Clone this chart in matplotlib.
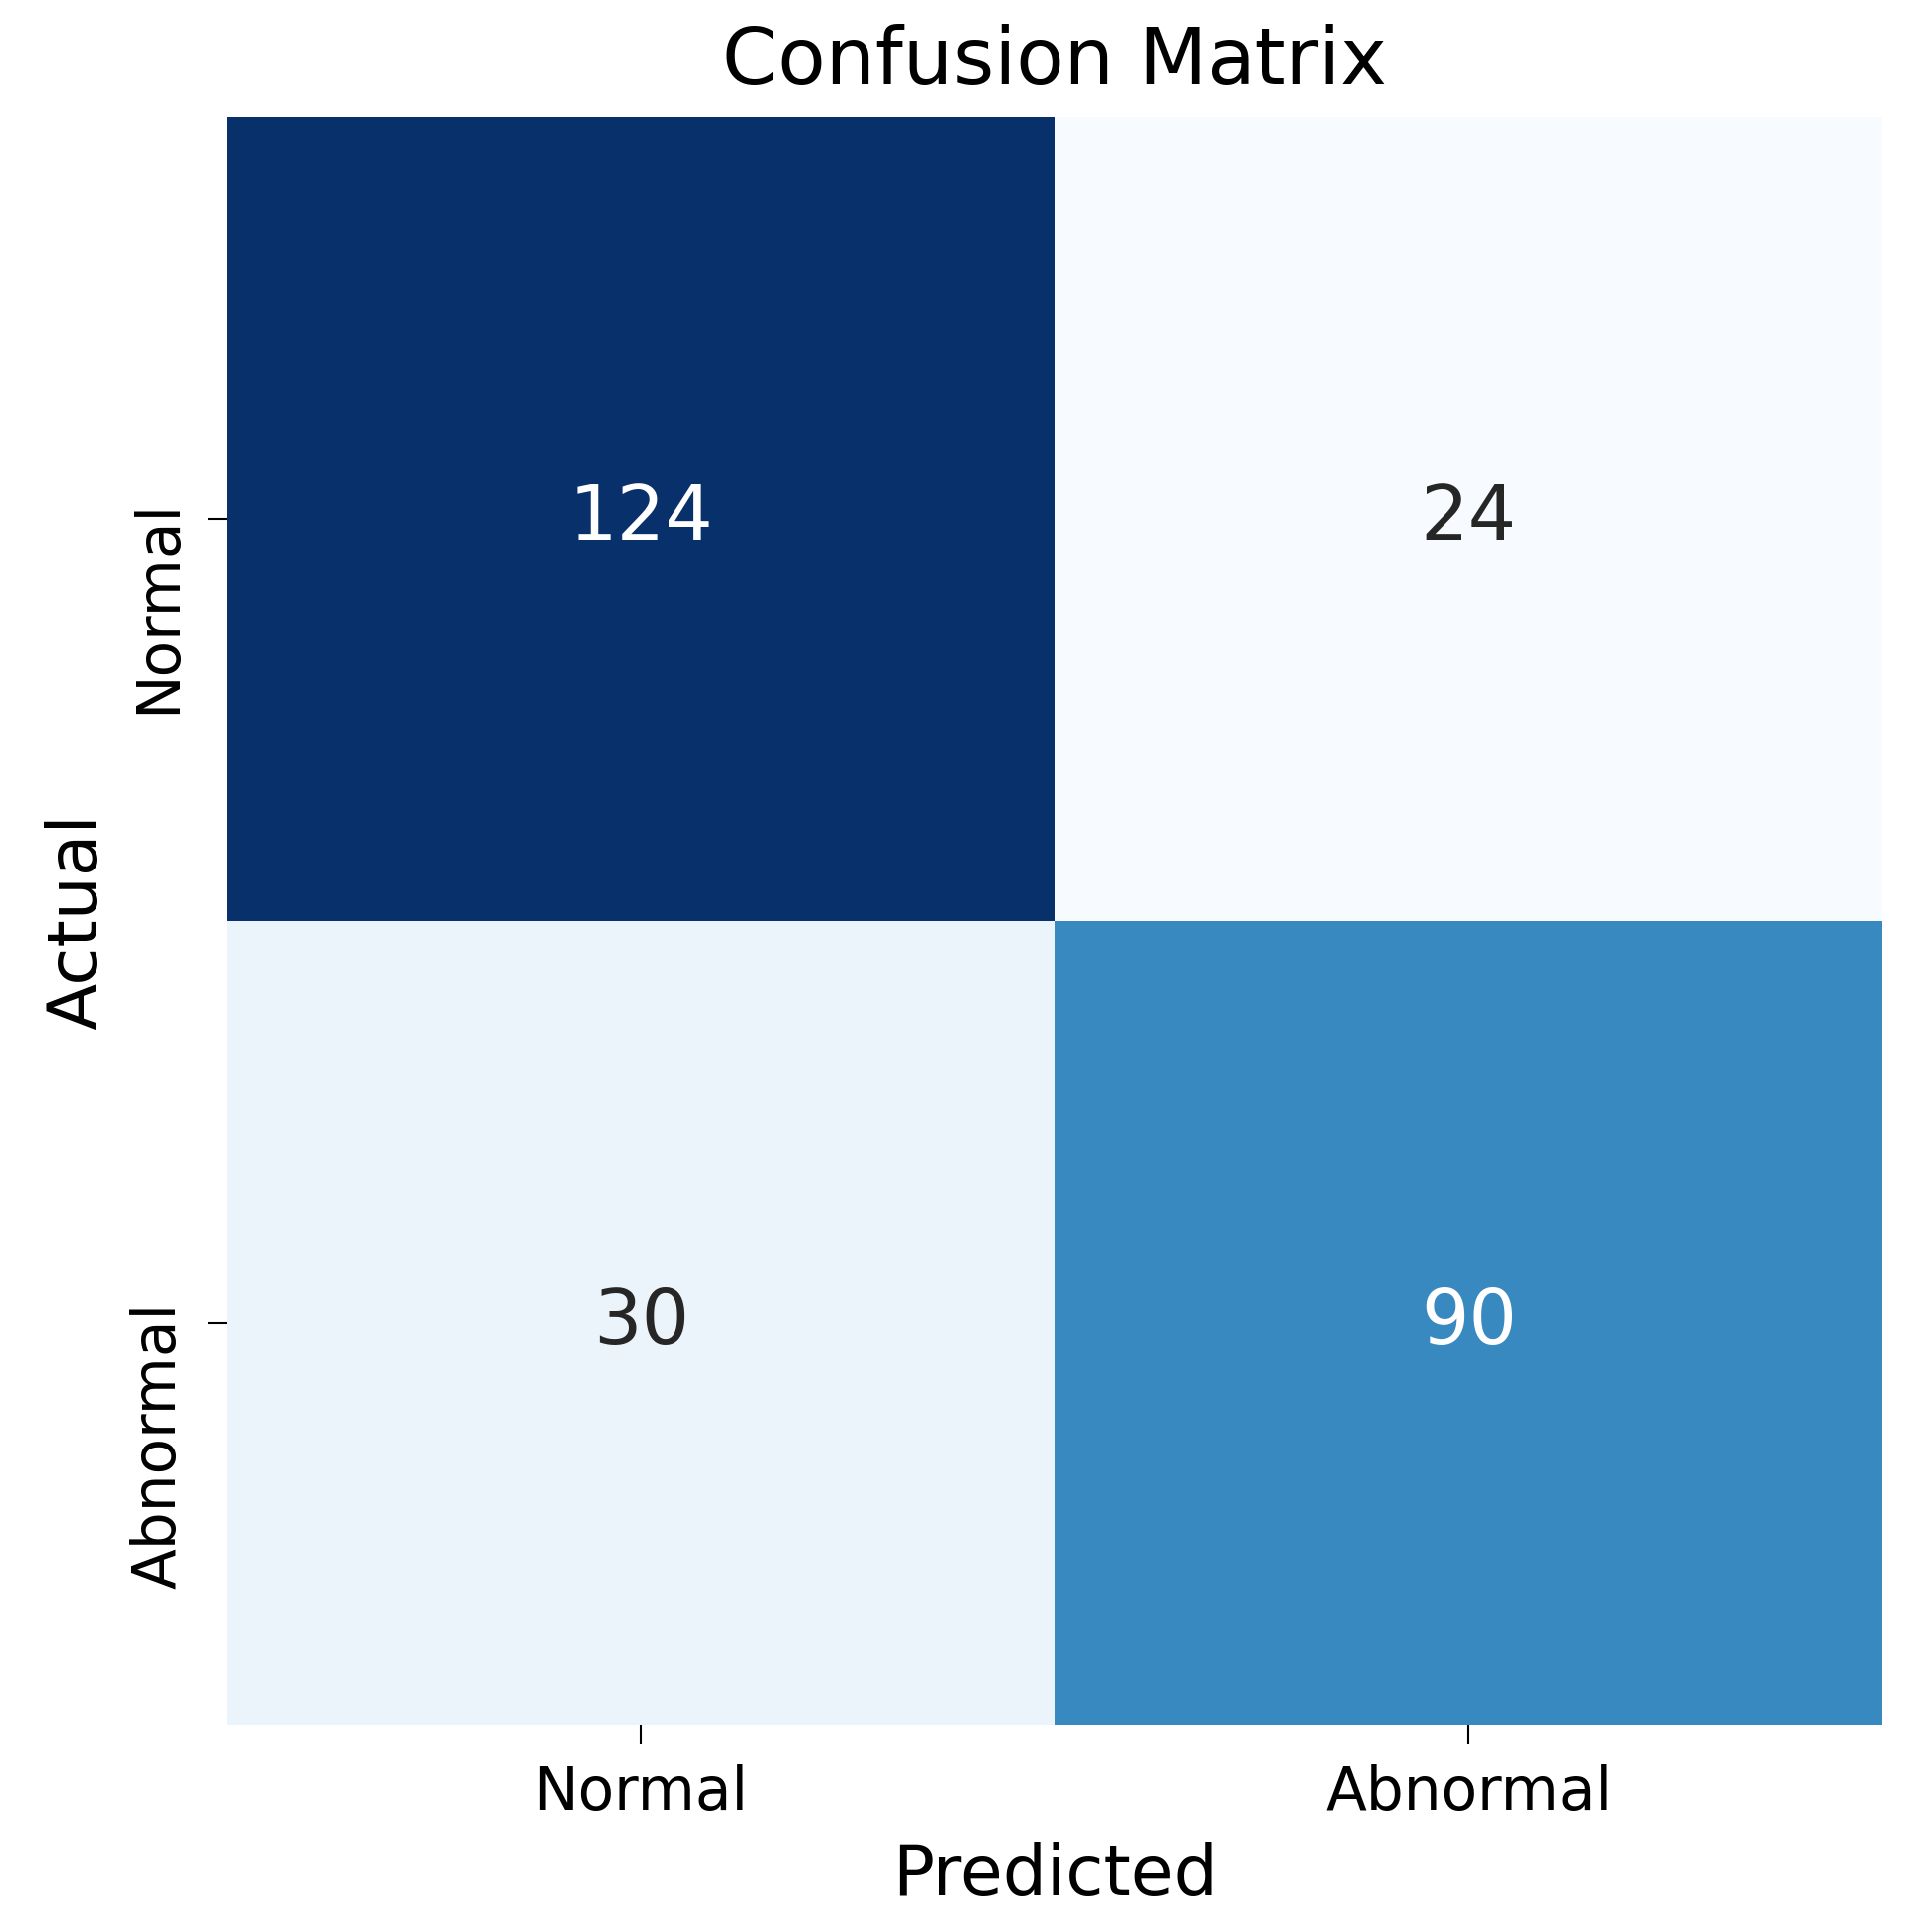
import numpy as np
import matplotlib
matplotlib.use('Agg')
import matplotlib.pyplot as plt
import matplotlib.transforms as mtransforms
import seaborn as sns

## data
class_names = ['Normal', 'Abnormal']
counts = np.array([[124, 24],
                   [30, 90]])

## plot
fig = plt.figure(figsize=(19.35, 19.42), dpi=100)
ax = fig.add_axes([0.118, 0.107, 0.860, 0.832])

sns.heatmap(counts, annot=True, fmt='d', cmap='Blues', cbar=False,
            xticklabels=class_names, yticklabels=class_names,
            annot_kws={'fontsize': 55}, ax=ax)

ax.set_title('Confusion Matrix', fontsize=57, pad=25)
ax.set_xlabel('Predicted', fontsize=50, labelpad=14)
ax.set_ylabel('Actual', fontsize=50, labelpad=14)
ax.tick_params(axis='both', labelsize=43, length=14, width=1.5, pad=14)
ax.tick_params(axis='y', labelrotation=90)
# labels hang just below their ticks, like the original
shift = mtransforms.ScaledTranslation(0, 0.21, fig.dpi_scale_trans)
for lab in ax.get_yticklabels():
    lab.set_va('top')
    lab.set_transform(lab.get_transform() + shift)

plt.savefig('out.png', dpi=100)
